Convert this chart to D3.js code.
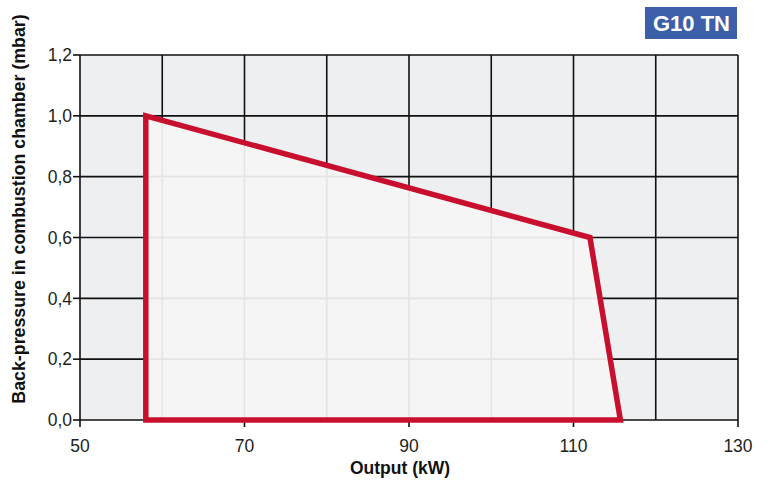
<!DOCTYPE html>
<html>
<head>
<meta charset="utf-8">
<script src="https://cdn.jsdelivr.net/npm/d3@7"></script>
<style>
  body { margin: 0; background: #fff; }
  text { font-family: "Liberation Sans", Arial, sans-serif; }
</style>
</head>
<body>
<div id="chart"></div>
<script>
var width = 773;
var height = 495;

// envelope of the working field
var outputKW = [58, 58, 112, 115.7];
var backPressure = [0, 1.0, 0.6, 0];

var xTickLabels = [50, 70, 90, 110, 130];
var xGrid = [50, 60, 70, 80, 90, 100, 110, 120, 130];
var yTicks = [0, 0.2, 0.4, 0.6, 0.8, 1.0, 1.2];

var margin = { left: 80, right: 35, top: 55, bottom: 75 };

var x = d3.scaleLinear().domain([50, 130]).range([margin.left, width - margin.right]);
var y = d3.scaleLinear().domain([0, 1.2]).range([height - margin.bottom, margin.top]);

var svg = d3.select("#chart").append("svg")
  .attr("width", width)
  .attr("height", height);

// plot background
svg.append("rect")
  .attr("x", x(50)).attr("y", y(1.2))
  .attr("width", x(130) - x(50)).attr("height", y(0) - y(1.2))
  .attr("fill", "#eeeff1");

function drawGrid(g, color, w) {
  g.selectAll(".vg").data(xGrid).enter().append("line")
    .attr("x1", (d) => x(d)).attr("x2", (d) => x(d))
    .attr("y1", y(0)).attr("y2", y(1.2))
    .attr("stroke", color).attr("stroke-width", w);
  g.selectAll(".hg").data(yTicks).enter().append("line")
    .attr("x1", x(50)).attr("x2", x(130))
    .attr("y1", (d) => y(d)).attr("y2", (d) => y(d))
    .attr("stroke", color).attr("stroke-width", w);
}

drawGrid(svg.append("g"), "#111", 1.6);

var pts = outputKW.map((d, i) => [x(d), y(backPressure[i])]);

svg.append("clipPath").attr("id", "env")
  .append("polygon").attr("points", pts.map((p) => p.join(",")).join(" "));

svg.append("polygon")
  .attr("points", pts.map((p) => p.join(",")).join(" "))
  .attr("fill", "#f5f5f5");

drawGrid(svg.append("g").attr("clip-path", "url(#env)"), "#e4e4e4", 1.6);

// axis ticks
svg.selectAll(".yt").data(yTicks).enter().append("line")
  .attr("x1", x(50) - 7).attr("x2", x(50))
  .attr("y1", (d) => y(d)).attr("y2", (d) => y(d))
  .attr("stroke", "#111").attr("stroke-width", 1.6);

svg.selectAll(".xt").data(xTickLabels).enter().append("line")
  .attr("x1", (d) => x(d)).attr("x2", (d) => x(d))
  .attr("y1", y(0)).attr("y2", y(0) + 7)
  .attr("stroke", "#111").attr("stroke-width", 1.6);

svg.selectAll(".yl").data(yTicks).enter().append("text")
  .attr("x", x(50) - 8).attr("y", (d) => y(d))
  .attr("dy", "0.36em")
  .attr("text-anchor", "end")
  .attr("font-size", 17.5)
  .attr("fill", "#231f20")
  .text((d) => d.toFixed(1).replace(".", ","));

svg.selectAll(".xl").data(xTickLabels).enter().append("text")
  .attr("x", (d) => x(d)).attr("y", y(0) + 32)
  .attr("text-anchor", "middle")
  .attr("font-size", 17.5)
  .attr("fill", "#231f20")
  .text((d) => d);

// envelope outline
svg.append("polygon")
  .attr("points", pts.map((p) => p.join(",")).join(" "))
  .attr("fill", "none")
  .attr("stroke", "#c8102e")
  .attr("stroke-width", 5.5)
  .attr("stroke-linejoin", "miter");

// axis titles
svg.append("text")
  .attr("x", 400).attr("y", 474)
  .attr("text-anchor", "middle")
  .attr("font-size", 17.5).attr("font-weight", "bold")
  .attr("fill", "#111")
  .text("Output (kW)");

svg.append("text")
  .attr("transform", "translate(25, 209) rotate(-90)")
  .attr("text-anchor", "middle")
  .attr("font-size", 17.8).attr("font-weight", "bold")
  .attr("fill", "#111")
  .text("Back-pressure in combustion chamber (mbar)");

// model badge
svg.append("rect")
  .attr("x", 645).attr("y", 7).attr("width", 92).attr("height", 32)
  .attr("fill", "#3d5fa9");
svg.append("text")
  .attr("x", 691.5).attr("y", 23.5).attr("dy", "0.36em")
  .attr("text-anchor", "middle")
  .attr("font-size", 22).attr("font-weight", "bold")
  .attr("fill", "#fff")
  .text("G10 TN");
</script>
</body>
</html>
